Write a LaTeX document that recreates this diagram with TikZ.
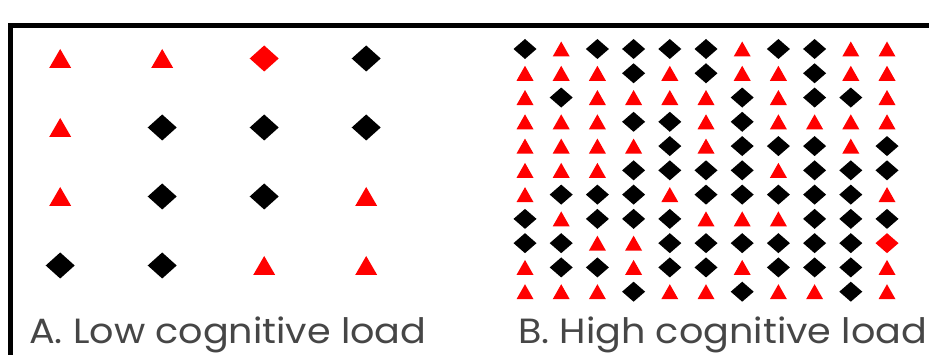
\documentclass[tikz,border=0pt]{standalone}
\usepackage{fontspec}
\setmainfont{Poppins}
\definecolor{tred}{RGB}{255,0,0}
\definecolor{txtgray}{RGB}{70,70,70}
% marker macros: big (left panel) and small (right panel)
\newcommand\mkBD[2]{\fill[black,shift={(#1,#2)}] (-14.5,0) -- (0,-13) -- (14.5,0) -- (0,13) -- cycle;}
\newcommand\mkBR[2]{\fill[tred,shift={(#1,#2)}] (-14.5,0) -- (0,-13) -- (14.5,0) -- (0,13) -- cycle;}
\newcommand\mkBT[2]{\fill[tred,shift={(#1,#2)}] (-11,9.5) -- (11,9.5) -- (0,-9.5) -- cycle;}
\newcommand\mkSD[2]{\fill[black,shift={(#1,#2)}] (-11.5,0) -- (0,-10) -- (11.5,0) -- (0,10) -- cycle;}
\newcommand\mkSR[2]{\fill[tred,shift={(#1,#2)}] (-11.5,0) -- (0,-10) -- (11.5,0) -- (0,10) -- cycle;}
\newcommand\mkST[2]{\fill[tred,shift={(#1,#2)}] (-8.5,7.5) -- (8.5,7.5) -- (0,-7.5) -- cycle;}
\newcommand\captext[1]{\scalebox{1.09}[1]{#1}}
\begin{document}
\begin{tikzpicture}[x=1pt,y=-1pt,
  caption/.style={anchor=base west, inner sep=0pt, text=txtgray,
    font=\fontsize{35}{40}\selectfont}]
\useasboundingbox (0,0) rectangle (929,355);
\fill[white] (0,0) rectangle (929,355);
\begin{scope}
\clip (0,0) rectangle (929,355);
\draw[line width=4.5pt] (10.5,370) -- (10.5,25.3) -- (945,25.3);
\end{scope}
% left panel: 4 x 4
\foreach [count=\i] \rowl in {{T,T,R,D},{T,D,D,D},{T,D,D,T},{D,D,T,T}} {
  \foreach [count=\j] \m in \rowl {
    \pgfmathsetmacro\xx{60.2+102*(\j-1)}
    \pgfmathsetmacro\yy{58.5+69*(\i-1)}
    \csname mkB\m\endcsname{\xx}{\yy}
  }
}
% right panel: 11 x 11
\foreach [count=\i] \rowl in {
  {D,T,D,D,D,D,T,D,D,T,T},
  {T,T,T,D,T,D,T,T,D,T,T},
  {T,D,T,T,T,T,D,T,D,D,T},
  {T,T,T,D,D,T,D,T,T,T,T},
  {T,T,T,T,D,T,D,D,D,T,D},
  {T,T,T,D,D,D,D,T,D,D,D},
  {T,D,D,D,T,D,D,D,D,D,T},
  {D,T,D,D,D,T,T,T,D,D,D},
  {D,D,T,T,D,D,D,D,D,D,R},
  {T,D,D,T,D,D,T,D,D,D,T},
  {T,T,T,D,T,T,D,T,T,D,T}} {
  \foreach [count=\j] \m in \rowl {
    \pgfmathsetmacro\xx{525+36.2*(\j-1)}
    \pgfmathsetmacro\yy{49+24.27*(\i-1)}
    \csname mkS\m\endcsname{\xx}{\yy}
  }
}
\node[caption] (capA) at (29,344) {\captext{A. Low cognitive load}};
\node[caption] (capB) at (518,344) {\captext{B. High cognitive load}};
\end{tikzpicture}
\end{document}
